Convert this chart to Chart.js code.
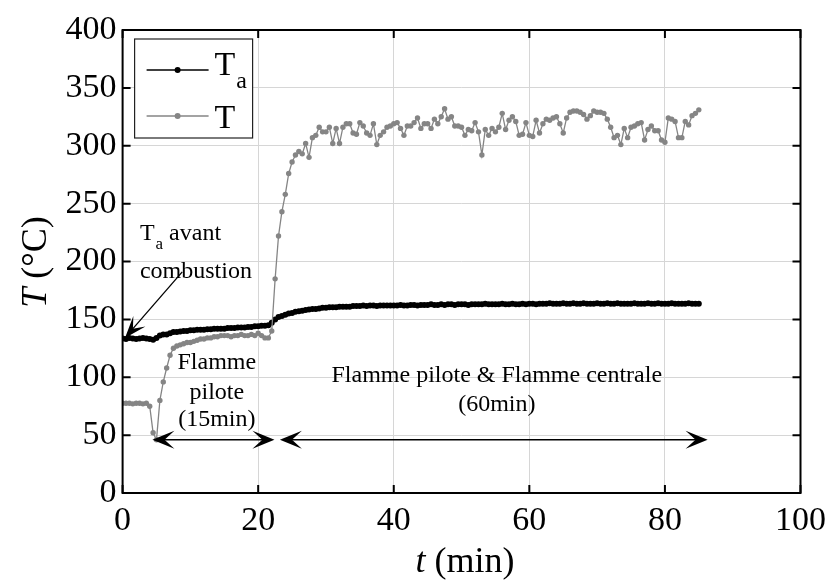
<!DOCTYPE html>
<html>
<head>
<meta charset="utf-8">
<script src="https://cdn.jsdelivr.net/npm/chart.js@4.4.1/dist/chart.umd.min.js"></script>
<style>
  html, body { margin: 0; padding: 0; background: #fff; }
  #wrap { width: 834px; height: 585px; }
</style>
</head>
<body>
<div id="wrap"><canvas id="chart" width="834" height="585"></canvas></div>
<script>
// readings every half minute, from t = 0 to t = 85 min
const sampleStep = 0.5;

// T_a : ambient temperature (°C)
const tempAmbient = [
  133.5, 133, 134, 133.5, 133, 133.5, 134, 133.5, 133, 132.5,
  134, 136, 137, 137, 138, 139, 139, 139.5, 140, 140,
  140.5, 140.5, 141, 141, 141, 141.5, 141.5, 142, 142, 142,
  142, 142.5, 142.5, 142.5, 143, 143, 143, 143.5, 143.5, 144,
  144, 144.5, 144.5, 145, 147, 150, 152, 153, 154, 155,
  155.5, 156.5, 157, 157.5, 158, 158.5, 159, 159, 159.5, 160,
  160, 160.5, 160.5, 160.5, 161, 161, 161, 161, 161.5, 161.5,
  161.5, 162, 161.5, 162, 162, 161.5, 162, 162, 162, 162,
  162, 162, 162.5, 162, 162, 162.5, 162.5, 162, 162.5, 162.5,
  162.5, 163, 162.5, 162.5, 163, 162.5, 163, 163, 162.5, 163,
  163, 163, 162.5, 163, 163, 163, 163, 163.5, 163, 163,
  163, 163, 163.5, 163, 163, 163.5, 163, 163, 163.5, 163,
  163.5, 163.5, 163, 163.5, 163.5, 163.5, 164, 163.5, 163.5, 163.5,
  164, 163.5, 163.5, 164, 163.5, 163.5, 164, 163.5, 163.5, 163.5,
  164, 163.5, 163.5, 164, 163.5, 163.5, 164, 163.5, 163.5, 163.5,
  163.5, 164, 163.5, 163.5, 163.5, 164, 163.5, 163.5, 164, 163.5,
  163.5, 163.5, 164, 163.5, 163.5, 163.5, 163.5, 164, 163.5, 163.5,
  163.5
];

// T : flame temperature (°C)
const tempFlame = [
  77.5, 77.5, 77.5, 77, 77.5, 77.5, 77, 77.5, 75, 52,
  46, 80, 96, 108, 119, 125, 127, 128, 129, 130,
  130, 131, 132, 133, 133, 134, 134, 135, 135, 136,
  136, 136, 135, 136, 136, 137, 136, 136, 137, 136,
  138, 136, 134, 134, 140, 185, 222, 243, 258, 276,
  286, 292, 295, 293, 302, 290, 307, 309, 316, 312,
  312, 316, 302, 315, 302, 316, 319, 319, 311, 310,
  320, 317, 311, 309, 319, 301, 309, 312, 316, 317,
  319, 320, 315, 309, 317, 317, 320, 324, 315, 319,
  319, 315, 323, 319, 325, 332, 323, 325, 317, 317,
  316, 309, 314, 313, 320, 312, 292, 314, 309, 315,
  312, 316, 328, 314, 322, 325, 321, 309, 310, 320,
  309, 308, 322, 311, 319, 323, 322, 324, 325, 319,
  311, 324, 329, 330, 330, 329, 327, 323, 326, 330,
  329, 329, 328, 323, 316, 307, 309, 301, 315, 307,
  316, 317, 319, 320, 305, 314, 317, 313, 313, 305,
  303, 324, 323, 321, 307, 307, 321, 318, 326, 328,
  331
];

const xTicks = [0, 20, 40, 60, 80, 100];
const yTicks = [0, 50, 100, 150, 200, 250, 300, 350, 400];

// phase markers (min) and the level the arrows sit at (°C)
const pilotSpan = [4.4, 22.4];
const mainSpan = [23.2, 86.3];
const spanLevel = 46;

const SERIF = "'Liberation Serif', 'Times New Roman', serif";
const GREY = '#858585';

const toPoints = vals => vals.map((v, i) => ({ x: i * sampleStep, y: v }));

function head(ctx, x, y, ang, len, half) {
  ctx.save();
  ctx.translate(x, y);
  ctx.rotate(ang);
  ctx.beginPath();
  ctx.moveTo(0, 0);
  ctx.lineTo(-len, -half);
  ctx.lineTo(-len * 0.55, 0);
  ctx.lineTo(-len, half);
  ctx.closePath();
  ctx.fill();
  ctx.restore();
}

function doubleArrow(ctx, x1, x2, y) {
  ctx.beginPath();
  ctx.moveTo(x1 + 6, y);
  ctx.lineTo(x2 - 6, y);
  ctx.stroke();
  head(ctx, x1, y, Math.PI, 22, 9);
  head(ctx, x2, y, 0, 22, 9);
}

// "T" followed by a subscript, optional trailing text
function subText(ctx, x, y, base, sub, rest, size) {
  ctx.font = `${size}px ${SERIF}`;
  ctx.textAlign = 'left';
  ctx.fillText(base, x, y);
  let cx = x + ctx.measureText(base).width + 1;
  ctx.font = `${Math.round(size * 0.72)}px ${SERIF}`;
  ctx.fillText(sub, cx, y + size * 0.38);
  cx += ctx.measureText(sub).width;
  if (rest) {
    ctx.font = `${size}px ${SERIF}`;
    ctx.fillText(rest, cx, y);
  }
}

const decorations = {
  id: 'decorations',
  afterDraw(chart) {
    const { ctx, chartArea: a, scales: { x, y } } = chart;
    const px = t => x.getPixelForValue(t);
    const py = v => y.getPixelForValue(v);
    ctx.save();

    // box and inward ticks
    ctx.strokeStyle = '#000';
    ctx.lineWidth = 2;
    ctx.strokeRect(a.left, a.top, a.right - a.left, a.bottom - a.top);
    ctx.beginPath();
    xTicks.forEach(t => {
      const xx = px(t);
      ctx.moveTo(xx, a.bottom); ctx.lineTo(xx, a.bottom - 8);
      ctx.moveTo(xx, a.top); ctx.lineTo(xx, a.top + 8);
    });
    yTicks.forEach(v => {
      const yy = py(v);
      ctx.moveTo(a.left, yy); ctx.lineTo(a.left + 8, yy);
      ctx.moveTo(a.right, yy); ctx.lineTo(a.right - 8, yy);
    });
    ctx.stroke();

    // axis titles
    ctx.fillStyle = '#000';
    ctx.textBaseline = 'middle';
    ctx.font = `italic 36px ${SERIF}`;
    const wt = ctx.measureText('t').width;
    ctx.font = `36px ${SERIF}`;
    const wu = ctx.measureText(' (min)').width;
    let sx = 465 - (wt + wu) / 2;
    ctx.textAlign = 'left';
    ctx.font = `italic 36px ${SERIF}`;
    ctx.fillText('t', sx, 563);
    ctx.font = `36px ${SERIF}`;
    ctx.fillText(' (min)', sx + wt, 563);

    ctx.save();
    ctx.translate(37, 262);
    ctx.rotate(-Math.PI / 2);
    ctx.font = `italic 36px ${SERIF}`;
    const wT = ctx.measureText('T').width;
    ctx.font = `36px ${SERIF}`;
    const wC = ctx.measureText(' (°C)').width;
    sx = -(wT + wC) / 2;
    ctx.font = `italic 36px ${SERIF}`;
    ctx.fillText('T', sx, 0);
    ctx.font = `36px ${SERIF}`;
    ctx.fillText(' (°C)', sx + wT, 0);
    ctx.restore();

    // legend
    const lx = a.left + 12, ly = a.top + 9;
    ctx.lineWidth = 1.2;
    ctx.strokeStyle = '#222';
    ctx.fillStyle = '#fff';
    ctx.fillRect(lx, ly, 118, 99);
    ctx.strokeRect(lx, ly, 118, 99);
    const rows = [
      { color: '#000', y: ly + 31, sub: 'a', base: ly + 36 },
      { color: GREY, y: ly + 77, sub: '', base: ly + 89 }
    ];
    ctx.textBaseline = 'alphabetic';
    rows.forEach(r => {
      ctx.strokeStyle = r.color;
      ctx.fillStyle = r.color;
      ctx.lineWidth = 1.5;
      ctx.beginPath();
      ctx.moveTo(lx + 12, r.y); ctx.lineTo(lx + 74, r.y);
      ctx.stroke();
      ctx.beginPath();
      ctx.arc(lx + 43, r.y, 3, 0, Math.PI * 2);
      ctx.fill();
      ctx.fillStyle = '#000';
      if (r.sub) subText(ctx, lx + 80, r.base, 'T', r.sub, '', 34);
      else { ctx.font = `34px ${SERIF}`; ctx.fillText('T', lx + 80, r.base); }
    });

    // annotations
    ctx.fillStyle = '#000';
    ctx.strokeStyle = '#000';
    ctx.lineWidth = 1.3;
    subText(ctx, px(2.55), py(219), 'T', 'a', ' avant', 24);
    ctx.font = `24px ${SERIF}`;
    ctx.textAlign = 'left';
    ctx.fillText('combustion', px(2.55), py(186));

    // pointer to the start of T_a
    const ax1 = px(8.8), ay1 = py(191), ax2 = px(0.35), ay2 = py(134);
    ctx.beginPath();
    ctx.moveTo(ax1, ay1); ctx.lineTo(ax2 + 6, ay2 - 7);
    ctx.stroke();
    head(ctx, ax2, ay2, Math.atan2(ay2 - ay1, ax2 - ax1), 22, 8);

    ctx.textAlign = 'center';
    ctx.font = `24px ${SERIF}`;
    ctx.fillText('Flamme', px(13.9), py(107));
    ctx.fillText('pilote', px(13.9), py(81));
    ctx.fillText('(15min)', px(13.9), py(58));
    ctx.fillText('Flamme pilote & Flamme centrale', px(55.2), py(96));
    ctx.fillText('(60min)', px(55.2), py(71));

    ctx.lineWidth = 1.5;
    doubleArrow(ctx, px(pilotSpan[0]), px(pilotSpan[1]), py(spanLevel));
    doubleArrow(ctx, px(mainSpan[0]), px(mainSpan[1]), py(spanLevel));

    ctx.restore();
  }
};

new Chart(document.getElementById('chart'), {
  type: 'line',
  data: {
    datasets: [
      {
        label: 'T',
        data: toPoints(tempFlame),
        borderColor: GREY,
        backgroundColor: GREY,
        borderWidth: 1.3,
        pointRadius: 2.7,
        pointBorderWidth: 0,
        order: 0
      },
      {
        label: 'Ta',
        data: toPoints(tempAmbient),
        borderColor: '#000',
        backgroundColor: '#000',
        borderWidth: 2,
        pointRadius: 3,
        pointBorderWidth: 0,
        order: 1
      }
    ]
  },
  options: {
    responsive: false,
    animation: false,
    devicePixelRatio: 1,
    layout: { padding: { top: 30, right: 27, left: 0, bottom: 0 } },
    plugins: { legend: { display: false }, tooltip: { enabled: false } },
    scales: {
      x: {
        type: 'linear',
        min: 0, max: 100,
        afterBuildTicks: s => { s.ticks = xTicks.map(v => ({ value: v })); },
        afterFit: s => { s.height = 92; },
        ticks: {
          color: '#000', padding: 8, maxRotation: 0, autoSkip: false,
          font: { family: SERIF, size: 34 }
        },
        grid: { color: '#d6d6d6', lineWidth: 1, drawTicks: false },
        border: { display: false }
      },
      y: {
        min: 0, max: 400,
        afterBuildTicks: s => { s.ticks = yTicks.map(v => ({ value: v })); },
        afterFit: s => { s.width = 122.6; },
        ticks: {
          color: '#000', padding: 6,
          font: { family: SERIF, size: 34 }
        },
        grid: { color: '#d6d6d6', lineWidth: 1, drawTicks: false },
        border: { display: false }
      }
    }
  },
  plugins: [decorations]
});
</script>
</body>
</html>
